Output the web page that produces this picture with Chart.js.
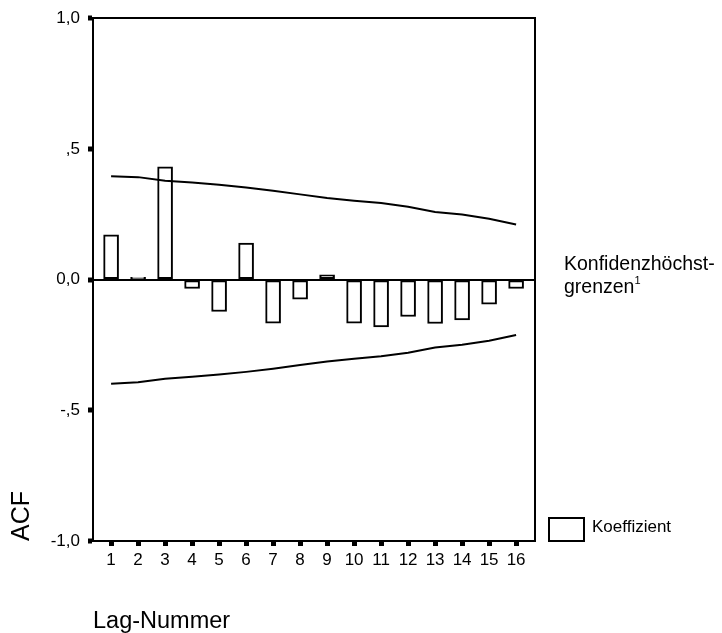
<!DOCTYPE html>
<html><head><meta charset="utf-8">
<script src="https://cdn.jsdelivr.net/npm/chart.js@4.4.1/dist/chart.umd.min.js"></script>
<style>
html,body{margin:0;padding:0;background:#fff;}
#wrap{position:relative;width:722px;height:633px;}
.lg{position:absolute;font-family:"Liberation Sans",Arial,sans-serif;color:#000;white-space:nowrap;}
</style></head><body>
<div id="wrap"><canvas id="c" width="722" height="633"></canvas>
<div class="lg" style="left:564px;top:252px;font-size:19.5px;line-height:23px;">Konfidenzhöchst-<br>grenzen<span style="font-size:11px;position:relative;top:-9px;">1</span></div>
<div class="lg" style="left:548px;top:517px;width:33px;height:21px;border:2px solid #000;"></div>
<div class="lg" style="left:592px;top:517px;font-size:17px;">Koeffizient</div>
</div>
<script>
const lags = [1,2,3,4,5,6,7,8,9,10,11,12,13,14,15,16];
const acf = [0.171,0.009,0.431,-0.034,-0.122,0.140,-0.167,-0.075,0.018,-0.167,-0.181,-0.141,-0.168,-0.154,-0.094,-0.034];
const upperLimit = [0.395,0.392,0.378,0.371,0.363,0.352,0.340,0.326,0.312,0.302,0.293,0.279,0.259,0.249,0.233,0.211];
const lowerLimit = [-0.398,-0.393,-0.379,-0.372,-0.363,-0.353,-0.341,-0.327,-0.313,-0.303,-0.293,-0.280,-0.260,-0.249,-0.234,-0.212];
const yTickValues = [-1,-0.5,0,0.5,1];
const yTickLabels = ['-1,0','-,5','0,0',',5','1,0'];
const xMin = 0.33, xMax = 16.7;

const FONT = '"Liberation Sans", Arial, sans-serif';
const pts = (ys) => lags.map((x,i)=>({x:x,y:ys[i]}));

new Chart(document.getElementById('c'), {
  data: {
    datasets: [
      {type:'line', data: pts(upperLimit), borderColor:'#000', borderWidth:2, pointRadius:0, tension:0, fill:false, order:1},
      {type:'line', data: pts(lowerLimit), borderColor:'#000', borderWidth:2, pointRadius:0, tension:0, fill:false, order:1},
      {type:'bar', data: pts(acf), backgroundColor:'#fff', borderColor:'#000', borderWidth:2, borderSkipped:false, barThickness:15, order:2}
    ]
  },
  options: {
    responsive:false, animation:false,
    layout:{padding:{left:0, top:15, right:187, bottom:0}},
    plugins:{legend:{display:false}, tooltip:{enabled:false}},
    scales: {
      x: {
        type:'linear', position:'bottom', min:xMin, max:xMax, offset:false,
        afterBuildTicks: s => { s.ticks = lags.map(v=>({value:v})); },
        afterFit: s => { s.height = 92; },
        ticks:{color:'#000', font:{family:FONT, size:17}, padding:4, maxRotation:0, autoSkip:false, callback: v => String(v)},
        grid:{display:true, offset:false, drawOnChartArea:false, drawTicks:true, tickLength:5, tickWidth:5, tickColor:'#000'},
        border:{display:true, color:'#000', width:2},
        title:{display:true, text:'Lag-Nummer', align:'start', color:'#000', font:{family:FONT, size:23.5}, padding:{top:0, bottom:-3}}
      },
      y: {
        type:'linear', position:'left', min:-1, max:1,
        afterBuildTicks: s => { s.ticks = yTickValues.map(v=>({value:v})); },
        afterFit: s => { s.width = 93; },
        ticks:{color:'#000', font:{family:FONT, size:17}, padding:8, autoSkip:false,
          callback: v => { const i = yTickValues.indexOf(v); return i>=0 ? yTickLabels[i] : ''; }},
        grid:{display:true, drawOnChartArea:true, drawTicks:true, tickLength:5, tickWidth:5, tickColor:'#000', lineWidth:2,
          color: ctx => (ctx.tick && ctx.tick.value === 0) ? '#000' : 'rgba(0,0,0,0)'},
        border:{display:true, color:'#000', width:2},
        title:{display:true, text:'ACF', align:'start', color:'#000', font:{family:FONT, size:25}, padding:{top:7, bottom:0}}
      },
      x2: {
        type:'linear', position:'top', min:xMin, max:xMax, offset:false,
        afterFit: s => { s.height = 0; },
        ticks:{display:false},
        grid:{display:true, drawOnChartArea:false, drawTicks:false},
        border:{display:true, color:'#000', width:2}
      },
      y2: {
        type:'linear', position:'right', min:-1, max:1,
        afterFit: s => { s.width = 0; },
        ticks:{display:false},
        grid:{display:true, drawOnChartArea:false, drawTicks:false},
        border:{display:true, color:'#000', width:2}
      }
    }
  }
});
</script>
</body></html>
